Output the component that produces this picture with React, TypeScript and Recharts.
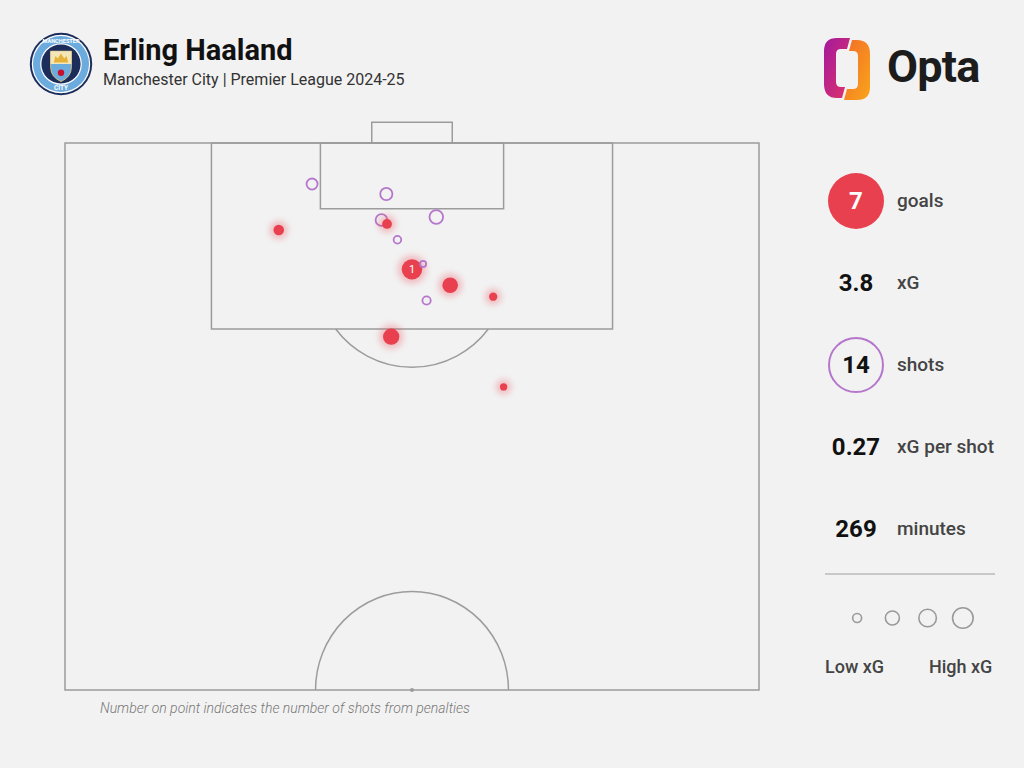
import React from "react";
import {
  ScatterChart,
  Scatter,
  XAxis,
  YAxis,
  ZAxis,
  ReferenceArea,
  ReferenceDot,
} from "recharts";

// shot locations: x across the pitch (0-100), y = distance from goal line (Opta units)
const shotX = [35.6, 46.3, 45.6, 53.5, 30.8, 46.4, 50.0, 47.9, 51.6, 52.1, 55.5, 61.7, 47.0, 63.2];
const shotY = [3.75, 4.66, 7.04, 6.76, 7.95, 7.4, 11.55, 8.84, 11.06, 14.4, 13.0, 14.05, 17.7, 22.3];
const shotXg = [0.23, 0.28, 0.26, 0.35, 0.21, 0.18, 0.79, 0.11, 0.07, 0.13, 0.46, 0.13, 0.5, 0.1];
const shotGoal = [0, 0, 0, 0, 1, 1, 1, 0, 0, 0, 1, 1, 1, 1];
const shotPens = [0, 0, 0, 0, 0, 0, 1, 0, 0, 0, 0, 0, 0, 0];

const statValues = ["7", "3.8", "14", "0.27", "269"];
const statLabels = ["goals", "xG", "shots", "xG per shot", "minutes"];
const legendXg = [0.15, 0.37, 0.58, 0.8];
const legendLabels = ["Low xG", "High xG"];

const shots = shotX.map((x, i) => ({
  x,
  y: shotY[i],
  xg: shotXg[i],
  goal: shotGoal[i],
  pens: shotPens[i],
}));

const RED = "#e8404f";
const PURPLE = "#b577cc";
const LINE = "#9c9c9c";
const BG = "#f2f2f2";

// pitch geometry in the same units
const ARC_RX = 13.9;
const ARC_RY = 9;
const PEN_SPOT = 11.5;
const BOX_DEPTH = 17;

function ShotMark(props: any) {
  const { cx, cy, width, payload } = props;
  if (cx == null || cy == null) return null;
  const r = width / 2;
  if (payload.goal) {
    return (
      <g>
        <circle cx={cx} cy={cy} r={r + 4} fill={RED} opacity={0.3} style={{ filter: "blur(3px)" }} />
        <circle cx={cx} cy={cy} r={r} fill={RED} />
        {payload.pens > 0 && (
          <text
            x={cx}
            y={cy + 4}
            textAnchor="middle"
            fill="#fff"
            fontSize={11}
            fontFamily="Roboto, sans-serif"
          >
            {payload.pens}
          </text>
        )}
      </g>
    );
  }
  return <circle cx={cx} cy={cy} r={r} fill="none" stroke={PURPLE} strokeWidth={1.8} />;
}

function TopArc(props: any) {
  const { x, y, width, height } = props;
  const rx = Math.abs(width) / 2;
  const cx = x + rx;
  const cy = y + Math.abs(height) / 2;
  return (
    <path
      d={`M ${cx - rx} ${cy} A ${rx} ${Math.abs(height) / 2} 0 0 1 ${cx + rx} ${cy}`}
      fill="none"
      stroke={LINE}
      strokeWidth={1.5}
    />
  );
}

function PenaltyArc(props: any) {
  const { x, y, width, height } = props;
  const rx = Math.abs(width) / 2;
  const ry = Math.abs(height) / 2;
  const cx = x + rx;
  const cy = y + ry;
  const t = (BOX_DEPTH - PEN_SPOT) / ARC_RY;
  const dy = ry * t;
  const dx = rx * Math.sqrt(1 - t * t);
  return (
    <path
      d={`M ${cx - dx} ${cy + dy} A ${rx} ${ry} 0 0 0 ${cx + dx} ${cy + dy}`}
      fill="none"
      stroke={LINE}
      strokeWidth={1.5}
    />
  );
}

function CityBadge() {
  return (
    <svg width={64} height={64} viewBox="0 0 80 80" style={{ position: "absolute", left: 29, top: 32 }}>
      <circle cx={40} cy={40} r={39} fill="#1c2c5b" />
      <circle cx={40} cy={40} r={36.5} fill="#fff" />
      <circle cx={40} cy={40} r={35} fill="#6cabdd" />
      <circle cx={40} cy={40} r={26} fill="#fff" />
      <circle cx={40} cy={40} r={24.5} fill="#1c2c5b" />
      <path d="M27 24 L53 24 L53 44 Q53 56 40 62 Q27 56 27 44 Z" fill="#6cabdd" stroke="#f4d06f" strokeWidth={1} />
      <path d="M27 24 L53 24 L53 40 L27 40 Z" fill="#f5e6b8" />
      <path d="M31 38 L33 30 L36 33 L40 27 L44 33 L47 30 L49 38 Z" fill="#e7b23a" />
      <circle cx={40} cy={51} r={4} fill="#c8102e" />
      <text x={40} y={14} textAnchor="middle" fontSize={7} fontWeight={700} fill="#fff" fontFamily="Roboto, sans-serif">
        MANCHESTER
      </text>
      <text x={40} y={73} textAnchor="middle" fontSize={8} fontWeight={700} fill="#fff" fontFamily="Roboto, sans-serif">
        CITY
      </text>
    </svg>
  );
}

function OptaLogo() {
  return (
    <div style={{ position: "absolute", left: 820, top: 34, width: 180, height: 70 }}>
      <svg width={60} height={70} style={{ position: "absolute", left: 0, top: 0 }}>
        <defs>
          <linearGradient id="optaL" x1="0" y1="0" x2="1" y2="1">
            <stop offset="0" stopColor="#a3199c" />
            <stop offset="1" stopColor="#e0336a" />
          </linearGradient>
          <linearGradient id="optaR" x1="0" y1="0" x2="1" y2="1">
            <stop offset="0" stopColor="#f26c2a" />
            <stop offset="1" stopColor="#f9a51a" />
          </linearGradient>
        </defs>
        <path
          d="M30 4 L17 4 Q4 4 4 17 L4 50 Q4 64 17 64 L22 64 L25 53 L21 53 Q16 53 16 48 L16 20 Q16 15 21 15 L27 15 Z"
          fill="url(#optaL)"
        />
        <path
          d="M24 66 L37 66 Q50 66 50 53 L50 20 Q50 6 37 6 L32 6 L29 17 L33 17 Q38 17 38 22 L38 50 Q38 55 33 55 L27 55 Z"
          fill="url(#optaR)"
        />
      </svg>
      <div
        style={{
          position: "absolute",
          left: 67,
          top: 6,
          fontFamily: "Roboto, sans-serif",
          fontWeight: 700,
          fontSize: 45,
          color: "#1c1c1c",
          letterSpacing: -0.8,
        }}
      >
        Opta
      </div>
    </div>
  );
}

export default function App() {
  const statTops = [201, 283, 365, 447, 529];
  return (
    <div
      style={{
        position: "relative",
        width: 1024,
        height: 768,
        background: BG,
        overflow: "hidden",
        fontFamily: "Roboto, sans-serif",
      }}
    >
      <style>{`body{margin:0}`}</style>
      <CityBadge />
      <div style={{ position: "absolute", left: 103, top: 33, fontSize: 29, fontWeight: 700, color: "#111" }}>
        Erling Haaland
      </div>
      <div style={{ position: "absolute", left: 103, top: 70, fontSize: 16, color: "#333" }}>
        Manchester City | Premier League 2024-25
      </div>
      <OptaLogo />

      <div style={{ position: "absolute", left: 0, top: 0 }}>
        <ScatterChart width={1024} height={768} margin={{ top: 110.2, right: 265, bottom: 78, left: 65 }}>
          <XAxis type="number" dataKey="x" domain={[0, 100]} hide />
          <YAxis type="number" dataKey="y" domain={[-3, 50]} reversed hide />
          <ZAxis type="number" dataKey="xg" domain={[0, 0.8]} range={[0, 333]} />
          <ReferenceArea x1={0} x2={100} y1={0} y2={50} fill="none" stroke={LINE} strokeWidth={1.5} fillOpacity={0} />
          <ReferenceArea x1={21.1} x2={78.9} y1={0} y2={BOX_DEPTH} fill="none" stroke={LINE} strokeWidth={1.5} fillOpacity={0} />
          <ReferenceArea x1={36.8} x2={63.2} y1={0} y2={6} fill="none" stroke={LINE} strokeWidth={1.5} fillOpacity={0} />
          <ReferenceArea x1={44.2} x2={55.8} y1={-1.9} y2={0} fill="none" stroke={LINE} strokeWidth={1.5} fillOpacity={0} />
          <ReferenceArea
            x1={50 - ARC_RX}
            x2={50 + ARC_RX}
            y1={PEN_SPOT - ARC_RY}
            y2={PEN_SPOT + ARC_RY}
            shape={<PenaltyArc />}
          />
          <ReferenceArea
            x1={50 - ARC_RX}
            x2={50 + ARC_RX}
            y1={50 - ARC_RY}
            y2={50 + ARC_RY}
            ifOverflow="visible"
            shape={<TopArc />}
          />
          <ReferenceDot x={50} y={50} r={2} fill={LINE} stroke="none" />
          <Scatter data={shots} shape={<ShotMark />} isAnimationActive={false} />
        </ScatterChart>
      </div>

      <div style={{ position: "absolute", left: 100, top: 700, fontSize: 14, fontStyle: "italic", fontWeight: 300, color: "#777" }}>
        Number on point indicates the number of shots from penalties
      </div>

      {statValues.map((v, i) => (
        <React.Fragment key={i}>
          {i === 0 && (
            <div
              style={{
                position: "absolute",
                left: 828,
                top: statTops[i] - 28,
                width: 56,
                height: 56,
                borderRadius: "50%",
                background: RED,
              }}
            />
          )}
          {i === 2 && (
            <div
              style={{
                position: "absolute",
                left: 828,
                top: statTops[i] - 28,
                width: 52,
                height: 52,
                borderRadius: "50%",
                border: `2px solid ${PURPLE}`,
              }}
            />
          )}
          <div
            style={{
              position: "absolute",
              left: 806,
              width: 100,
              top: statTops[i] - 15,
              height: 30,
              lineHeight: "30px",
              textAlign: "center",
              fontSize: 24,
              fontWeight: 700,
              color: i === 0 ? "#fff" : "#111",
            }}
          >
            {v}
          </div>
          <div
            style={{
              position: "absolute",
              left: 897,
              top: statTops[i] - 13,
              height: 26,
              lineHeight: "26px",
              fontSize: 19,
              fontWeight: 500,
              color: "#444",
              whiteSpace: "nowrap",
            }}
          >
            {statLabels[i]}
          </div>
        </React.Fragment>
      ))}

      <div style={{ position: "absolute", left: 825, top: 573, width: 170, height: 1.5, background: "#c8c8c8" }} />
      <div style={{ position: "absolute", left: 830, top: 598 }}>
        <ScatterChart width={160} height={40} margin={{ top: 0, right: 0, bottom: 0, left: 0 }}>
          <XAxis type="number" dataKey="i" domain={[-0.77, 3.77]} hide />
          <YAxis type="number" dataKey="v" domain={[0, 2]} hide />
          <ZAxis type="number" dataKey="xg" domain={[0, 0.8]} range={[0, 333]} />
          <Scatter
            data={legendXg.map((xg, i) => ({ i, v: 1, xg }))}
            isAnimationActive={false}
            shape={(p: any) => (
              <circle cx={p.cx} cy={p.cy} r={p.width / 2} fill="none" stroke="#9a9a9a" strokeWidth={1.6} />
            )}
          />
        </ScatterChart>
      </div>
      <div style={{ position: "absolute", left: 825, top: 656, fontSize: 18, fontWeight: 500, color: "#444" }}>
        {legendLabels[0]}
      </div>
      <div style={{ position: "absolute", left: 929, top: 656, fontSize: 18, fontWeight: 500, color: "#444" }}>
        {legendLabels[1]}
      </div>
    </div>
  );
}
